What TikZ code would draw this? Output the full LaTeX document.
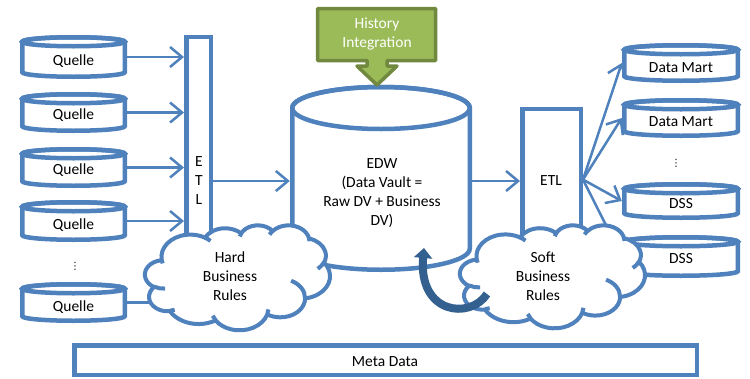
\documentclass[tikz,border=0pt]{standalone}
\usepackage{fontspec}
\setmainfont{Carlito}
\newfontfamily\dejavu{DejaVu Sans}
\usetikzlibrary{arrows.meta,calc}
\definecolor{bl}{HTML}{4F81BD}
\definecolor{gfill}{HTML}{9BBB59}
\definecolor{gline}{HTML}{71893F}
\definecolor{dbl}{HTML}{34608F}
\tikzset{
 shapeline/.style={draw=bl, line width=4.5pt},
 conn/.style={draw=bl, line width=2.5pt, -{Straight Barb[length=12pt,width=20pt]}},
 plainline/.style={draw=bl, line width=2.5pt},
 txt/.style={font=\fontsize{15.5}{19}\selectfont, text=black, align=center, inner sep=0pt},
 dotstxt/.style={font=\dejavu\fontsize{10}{12}\selectfont, text=black, inner sep=0pt},
 cloudline/.style={draw=bl, line width=4pt, line join=round},
}
% arc in Office (visual angle) convention: wR hR startdeg sweepdeg
\newcommand\oa[4]{arc[x radius=#1, y radius=#2, start angle={atan2(#1*sin(#3),#2*cos(#3))}, delta angle={mod(atan2(#1*sin(#3+#4),#2*cos(#3+#4))-atan2(#1*sin(#3),#2*cos(#3))+720,360)}]}
\newcommand\mycloud[5]{% name, left, top, width, height (path box, pt)
 \begin{scope}[shift={(#2,-#3)}, x=#4/4320*1pt, y=-#5/4320*1pt]
  \filldraw[cloudline, fill=white] (390,1437) \oa{675.3}{919.0}{-190.4875}{123.7805}
   \oa{533.3}{726.7}{-144.1024}{89.9452}
   \oa{436.5}{594.5}{-145.8079}{99.7230}
   \oa{485.7}{659.5}{-130.9861}{117.2417}
   \oa{533.3}{727.3}{-78.7089}{109.0269}
   \oa{677.5}{922.0}{-46.2673}{130.2690}
   \oa{578.5}{786.7}{0.6250}{114.0333}
   \oa{675.2}{921.5}{22.4516}{115.1726}
   \oa{772.0}{1054.3}{66.2426}{75.7110}
   \oa{436.0}{591.8}{-274.9421}{146.7356}
   \oa{434.5}{594.5}{-246.8285}{152.5189} -- cycle;
  \draw[cloudline] (469.3,2617.7) \oa{434.5}{594.5}{86.7420}{26.4295};
  \draw[cloudline] (692.8,3489.9) \oa{436.0}{591.8}{73.6105}{11.4475};
  \draw[cloudline] (1647.8,3909.0) \oa{675.2}{921.5}{137.6242}{14.0811};
  \draw[cloudline] (2882.7,3475.1) \oa{675.2}{921.5}{6.4533}{15.9984};
  \draw[cloudline] (3412.9,2295.4) \oa{578.5}{786.7}{-70.2924}{70.9174};
  \draw[cloudline] (4179.8,1535.4) \oa{533.3}{727.3}{30.3180}{27.7515};
  \draw[cloudline] (3832.4,542.6) \oa{485.7}{659.5}{-13.7443}{14.8589};
  \draw[cloudline] (2907.8,395.2) \oa{485.7}{659.5}{-149.1815}{18.1954};
  \draw[cloudline] (2214.1,472.0) \oa{436.5}{594.5}{-163.4943}{17.6864};
  \draw[cloudline] (1400.0,519.2) \oa{675.3}{919.0}{-66.7070}{12.3194};
  \draw[cloudline] (412.7,1578.9) \oa{675.3}{919.0}{157.6544}{11.8582};
  \node[inner sep=0pt, minimum width=#4, minimum height=#5] (#1) at (2160,2160) {};
 \end{scope}
}
\newcommand\mycyl[7]{%
 \pgfmathsetmacro\cxa{(#2+#3)/2}%
 \pgfmathsetmacro\rxa{(#3-#2)/2-2.25}%
 \pgfmathsetmacro\ytopc{#4+6.75}%
 \pgfmathsetmacro\ybotc{#5-6.75}%
 \filldraw[shapeline, fill=white] (#2+2.25,-\ytopc) -- (#2+2.25,-\ybotc) arc[start angle=180, end angle=360, x radius=\rxa, y radius=4.5] -- (#3-2.25,-\ytopc) arc[start angle=0,end angle=180,x radius=\rxa,y radius=4.5] -- cycle;
 \draw[shapeline] (\cxa,-\ytopc) ellipse[x radius=\rxa, y radius=4.5];
 \node[inner sep=0pt, minimum width=#3-#2, minimum height=\ybotc-\ytopc] (#1) at (\cxa,{-(\ytopc+\ybotc)/2}) {};
 \node[txt] (#1t) at (\cxa,-#6) {#7};
}
\begin{document}
\begin{tikzpicture}[x=1pt,y=1pt]
\useasboundingbox[fill=white] (0,0) rectangle (750,-378);
% sources
\mycyl{q1}{20}{127}{35}{79}{61}{Quelle}
\mycyl{q2}{20}{127}{92}{133}{115}{Quelle}
\mycyl{q3}{20}{127}{147}{188}{170}{Quelle}
\mycyl{q4}{20}{127}{200}{242}{225}{Quelle}
\mycyl{q5}{20}{127}{282}{323}{307}{Quelle}
\node[dotstxt] (ldots) at (75,-266) {⋮};
% targets
\mycyl{dm1}{622}{740}{43}{83}{68}{Data Mart}
\mycyl{dm2}{622}{740}{98}{138}{122}{Data Mart}
\mycyl{dss1}{622}{740}{182}{220}{204}{DSS}
\mycyl{dss2}{622}{740}{235}{278}{259}{DSS}
\node[dotstxt] (rdots) at (676,-163) {⋮};
% EDW
\filldraw[shapeline, fill=white] (292.25,-108) -- (292.25,-248.75) arc[start angle=180,end angle=360,x radius=88.75,y radius=21] -- (469.75,-108) arc[start angle=0,end angle=180,x radius=88.75,y radius=21] -- cycle;
\draw[shapeline] (381,-108) ellipse[x radius=88.75, y radius=21];
\node[inner sep=0pt, minimum width=182, minimum height=146] (edw) at (381,-181) {};
\node[txt] (edwt) at (382,-193) {EDW\\(Data Vault =\\Raw DV + Business\\DV)};
% ETL boxes
\node[shapeline, fill=white, minimum width=24.5, minimum height=212.75, inner sep=0pt] (etl1) at (198.5,-143.6) {};
\node[txt] (etl1t) at (199,-181) {E\\T\\L};
\node[shapeline, fill=white, minimum width=58.5, minimum height=140.75, inner sep=0pt] (etl2) at (551.5,-179.6) {};
\node[txt] (etl2t) at (551,-181) {ETL};
% connectors
\draw[conn] (q1.east) -- (q1.east -| etl1.west);
\draw[conn] (q2.east) -- (q2.east -| etl1.west);
\draw[conn] (q3.east) -- (q3.east -| etl1.west);
\draw[conn] (q4.east) -- (q4.east -| etl1.west);
\draw[plainline] (q5.east) -- (q5.east -| etl1.west);
\draw[conn] (etl1.east |- edw.west) -- (edw.west);
\draw[conn] (edw.east) -- (edw.east -| etl2.west);
\draw[conn] (etl2.east) -- (dm1.west);
\draw[conn] (etl2.east) -- (dm2.west);
\draw[conn] (etl2.east) -- (dss1.west);
\draw[plainline] (etl2.east) -- (dss2.west);
% clouds
\mycloud{hard}{145}{225}{185}{105}
\node[txt] (hardt) at (230,-276) {Hard\\Business\\Rules};
\mycloud{soft}{460}{225}{185}{103}
\node[txt] (softt) at (543,-276) {Soft\\Business\\Rules};
% meta data
\node[shapeline, minimum width=622.5, minimum height=29.5, inner sep=0pt] (meta) at (385.5,-360) {};
\node[txt] (metat) at (385,-362) {Meta Data};
% history integration
\filldraw[fill=gfill, draw=gline, line width=3.5pt, line join=round] (317.5,-8.5) -- (435.5,-8.5) -- (435.5,-60.5) -- (387,-60.5) -- (387,-66) -- (397,-66) -- (377,-85) -- (357,-66) -- (367,-66) -- (367,-60.5) -- (317.5,-60.5) -- cycle;
\node[txt, text=white] (hist) at (377,-34) {History\\Integration};
% curved arrow
\draw[dbl, line width=8pt, -{Triangle[length=10pt,width=18pt]}] (487,-294) .. controls (470,-320) and (418,-314) .. (424,-248);
\end{tikzpicture}
\end{document}
